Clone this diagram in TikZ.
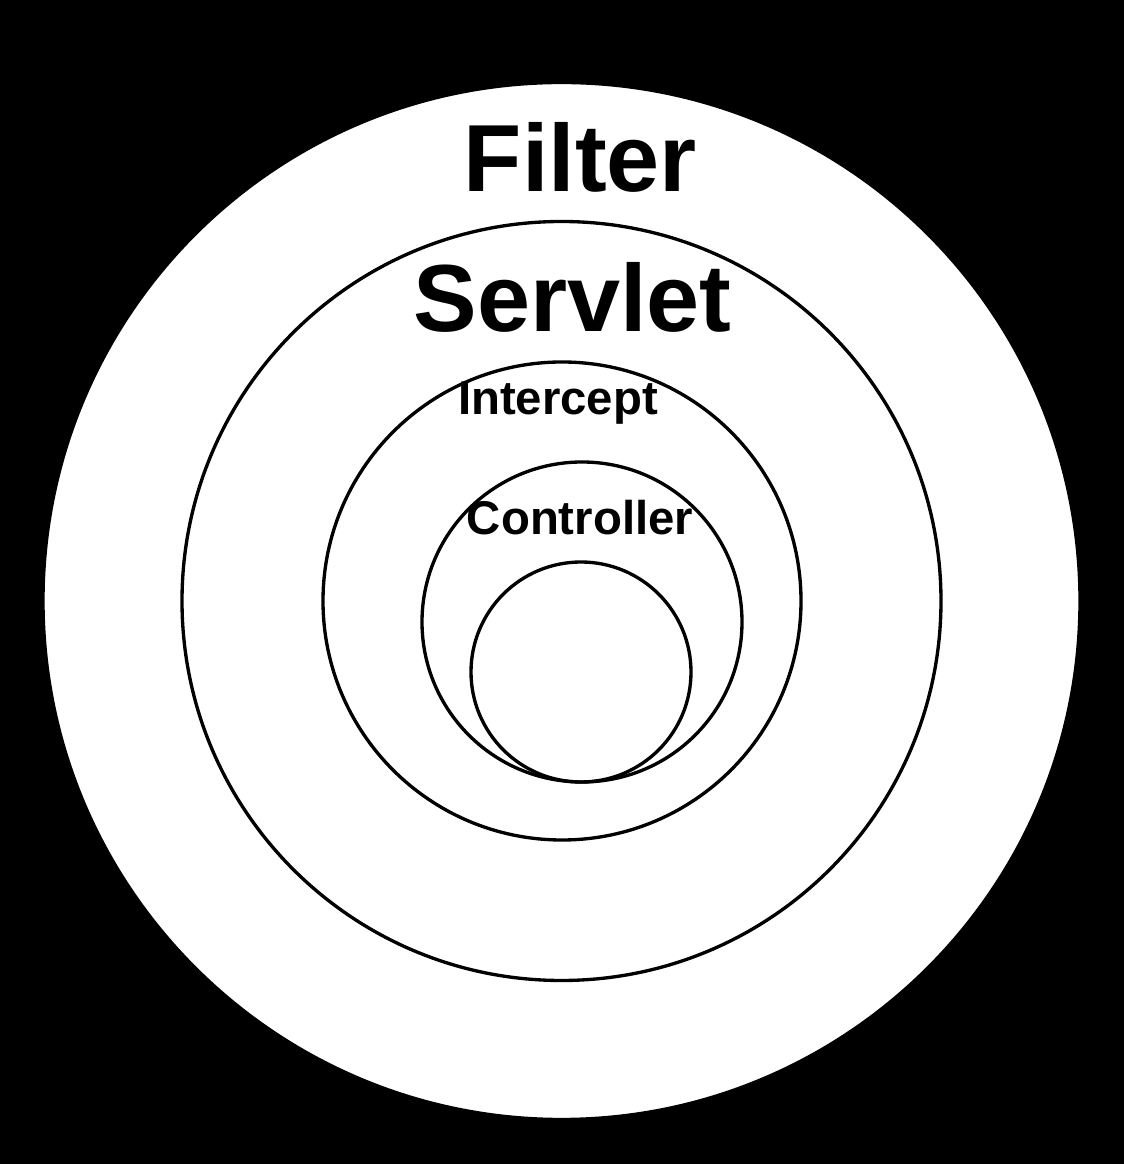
\documentclass[tikz,border=0pt]{standalone}
\usepackage{fontspec}
\setmainfont{Liberation Sans}
\begin{document}
\begin{tikzpicture}[x=0.75pt,y=0.75pt,
  ring/.style={draw=black,line width=2.5pt},
  bigtxt/.style={anchor=base,inner sep=0pt,font=\bfseries\fontsize{71.5}{80}\selectfont},
  midtxt/.style={anchor=base,inner sep=0pt,font=\bfseries\fontsize{35.5}{40}\selectfont}]
\useasboundingbox (0,0) rectangle (1124,1164);
\fill[black] (0,0) rectangle (1124,1164);
% outer circle
\draw[ring,fill=white] (561.5,563) circle (518.5);
% servlet
\draw[ring] (561.5,563) circle (379.5);
% intercept
\draw[ring] (562,563) circle (239);
% controller
\draw[ring] (582,542) circle (160);
% innermost
\draw[ring] (581,492) circle (110);
\node[bigtxt] (filter) at (580.5,972) {Filter};
\node[bigtxt] (servlet) at (572.5,832) {Servlet};
\node[midtxt] (intercept) at (558,749) {Intercept};
\node[midtxt] (controller) at (580,629) {Controller};
\end{tikzpicture}
\end{document}
